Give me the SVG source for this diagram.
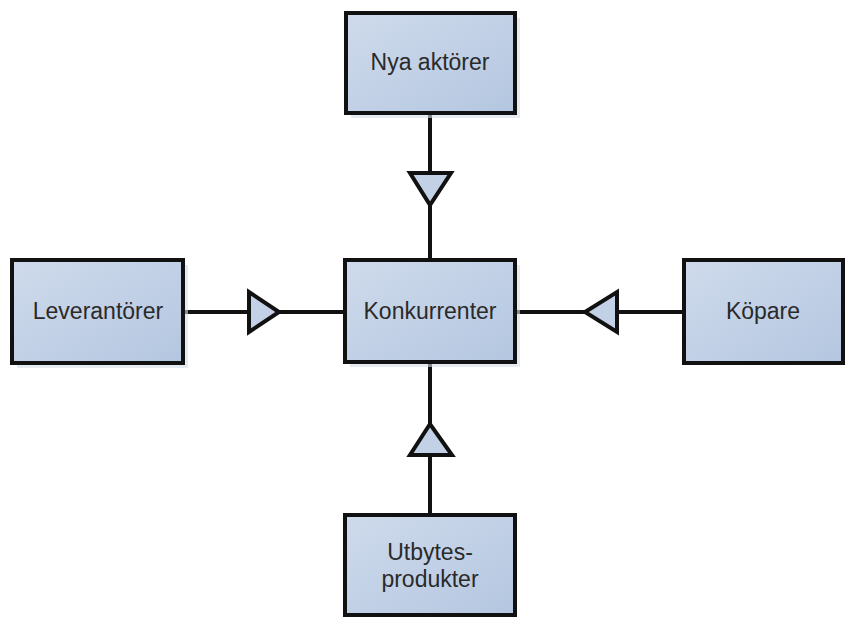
<svg xmlns="http://www.w3.org/2000/svg" width="847" height="618" viewBox="0 0 847 618">
<defs>
<linearGradient id="g" x1="0" y1="0" x2="1" y2="1">
<stop offset="0" stop-color="#cfdbec"/>
<stop offset="1" stop-color="#b4c6e0"/>
</linearGradient>
<style>
.box{fill:url(#g);stroke:#111;stroke-width:4}
.sh{fill:#d6dde8;opacity:0.6}
.t{font-family:"Liberation Sans",Arial,sans-serif;font-size:23px;fill:#2a2a2a;text-anchor:middle}
.ln{stroke:#111;stroke-width:4;fill:none}
.tri{fill:#c3d1e7;stroke:#111;stroke-width:4;stroke-linejoin:miter}
</style>
</defs>
<rect width="847" height="618" fill="#fff"/>
<g id="connectors">
<line class="ln" x1="430" y1="113" x2="430" y2="260"/>
<polygon class="tri" points="410,173 451,173 430,205"/>
<line class="ln" x1="183" y1="312" x2="345" y2="312"/>
<polygon class="tri" points="249,292 249,332 279,312"/>
<line class="ln" x1="515" y1="312" x2="684" y2="312"/>
<polygon class="tri" points="617,292 617,332 585,312"/>
<line class="ln" x1="430" y1="362" x2="430" y2="515"/>
<polygon class="tri" points="410,455 452,455 430,424"/>
</g>
<g id="nya">
<rect class="sh" x="351" y="18" width="169" height="100"/>
<rect class="box" x="346" y="13" width="169" height="100"/>
<text class="t" x="430" y="70">Nya aktörer</text>
</g>
<g id="leverantorer">
<rect class="sh" x="17" y="265" width="171" height="103"/>
<rect class="box" x="12" y="260" width="171" height="103"/>
<text class="t" x="98" y="319">Leverantörer</text>
</g>
<g id="konkurrenter">
<rect class="sh" x="350" y="265" width="170" height="102"/>
<rect class="box" x="345" y="260" width="170" height="102"/>
<text class="t" x="430" y="319">Konkurrenter</text>
</g>
<g id="kopare">
<rect class="box" x="684" y="260" width="159" height="103"/>
<text class="t" x="763" y="319">Köpare</text>
</g>
<g id="utbytes">
<rect class="box" x="345" y="515" width="170" height="100"/>
<text class="t" x="430" y="560">Utbytes-</text>
<text class="t" x="430" y="587">produkter</text>
</g>
</svg>
